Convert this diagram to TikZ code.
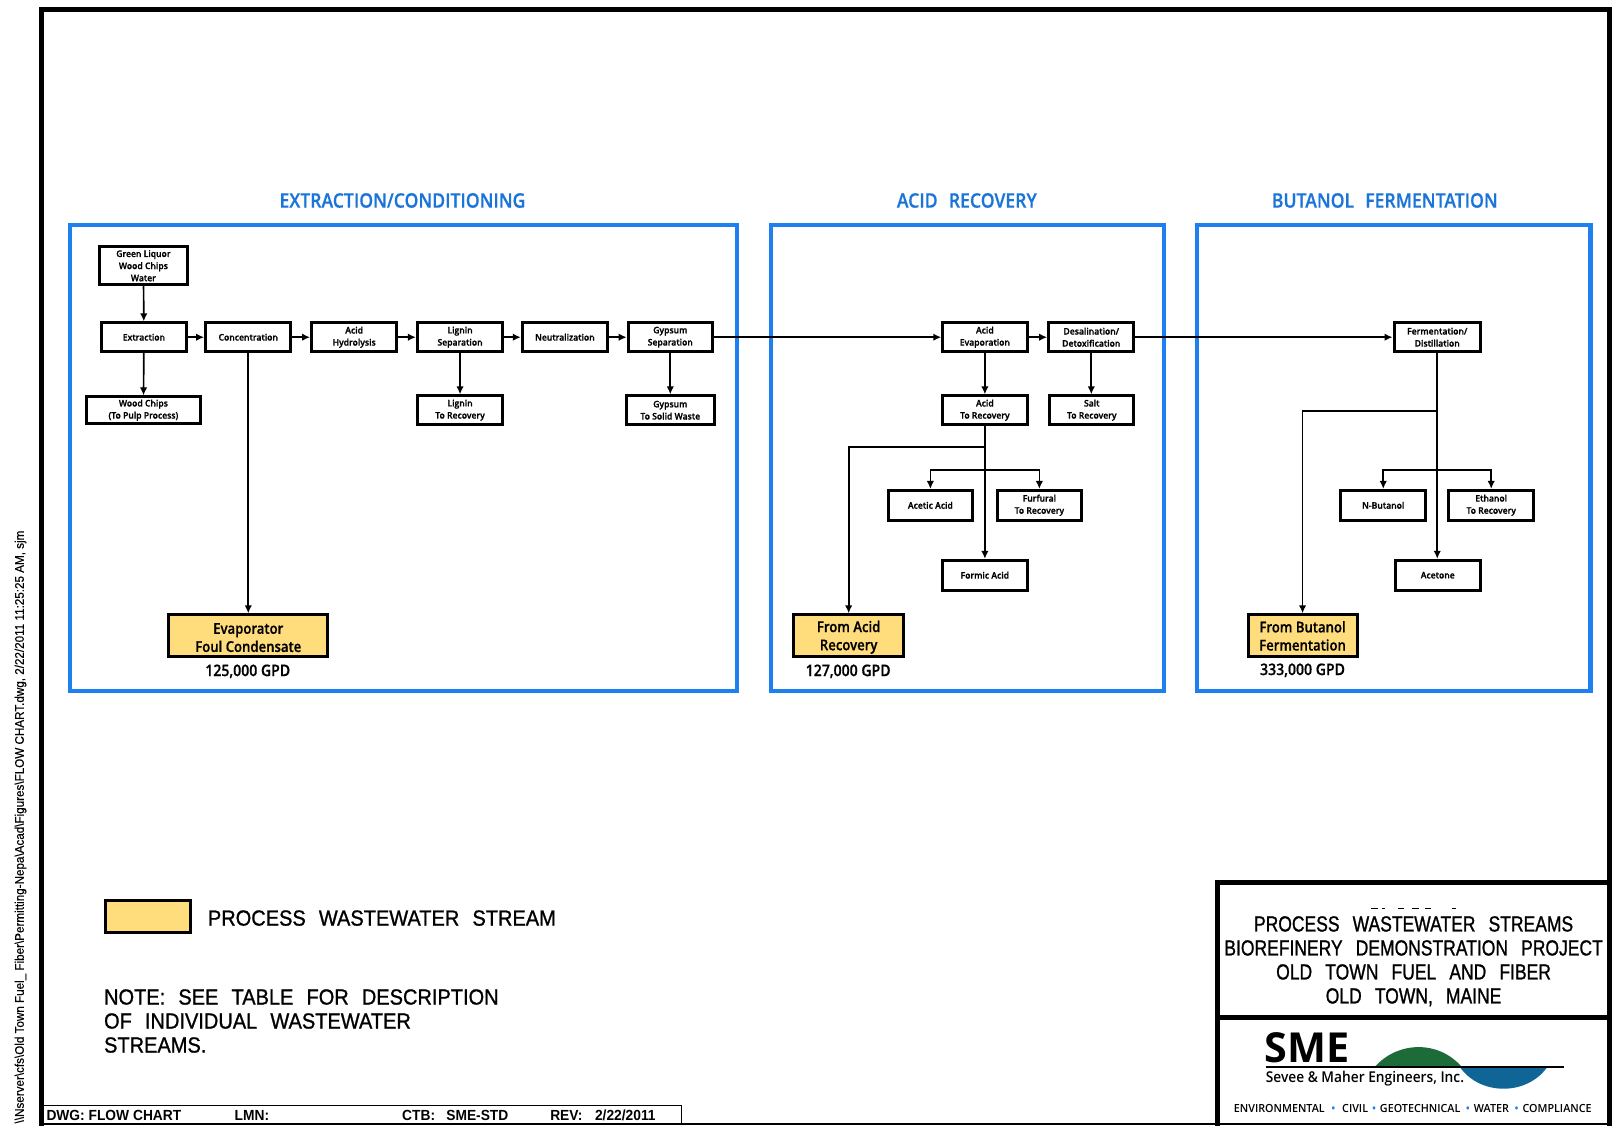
\documentclass[tikz,border=0pt]{standalone}
\usepackage{fontspec}
\setmainfont{Open Sans}
\newfontfamily\boxf[FakeStretch=0.95,FakeBold=1.2]{Open Sans Semibold}
\newfontfamily\headf[FakeStretch=0.88,FakeBold=0.5]{Open Sans Semibold}
\newfontfamily\wastef[FakeStretch=0.88,FakeBold=0.6]{Open Sans Semibold}
\newfontfamily\gpdf[FakeStretch=0.88,FakeBold=0.5]{Open Sans Semibold}
\newfontfamily\cadf[FakeStretch=0.80,FakeBold=1]{Liberation Sans}
\newfontfamily\notef[FakeStretch=0.915,FakeBold=1]{Liberation Sans}
\newfontfamily\stripf[FakeStretch=0.94]{Liberation Sans}
\newfontfamily\sidef[FakeStretch=0.93,FakeBold=0.4]{Liberation Sans}
\newfontfamily\smef{Open Sans}
\newfontfamily\logof[FakeStretch=0.92]{Open Sans Semibold}
\newfontfamily\envf[FakeStretch=0.96]{Open Sans Semibold}
\usetikzlibrary{arrows.meta}
\definecolor{frameblue}{HTML}{1E80F0}
\definecolor{headblue}{HTML}{1B74D8}
\definecolor{wastey}{HTML}{FFDD7C}
\definecolor{logogreen}{HTML}{1C6B38}
\definecolor{logoblue}{HTML}{0F6696}
\tikzset{
  x=0.771pt,y=-0.771pt,
  procbox/.style={draw=black,line width=2.2pt,fill=white,align=center,inner sep=0pt,
    font=\boxf\fontsize{6.8}{9.1}\selectfont},
  wastebox/.style={procbox,fill=wastey,font=\wastef\fontsize{11.2}{13.6}\selectfont},
  flow/.style={line width=1.25pt,-{Latex[length=6pt,width=5.6pt]}},
  group/.style={draw=frameblue,line width=3.2pt,fill=none,inner sep=0pt},
  grouptitle/.style={text=headblue,font=\headf\fontsize{15}{18}\selectfont,inner sep=0pt},
  gpd/.style={font=\gpdf\fontsize{12}{14}\selectfont,inner sep=0pt},
  cadtext/.style={font=\notef\fontsize{16.4}{18}\selectfont,inner sep=0pt,align=left},
  titletext/.style={font=\cadf\fontsize{16.4}{18}\selectfont,inner sep=0pt,align=center},
  striptext/.style={font=\stripf\bfseries\fontsize{11}{12}\selectfont,inner sep=0pt,anchor=west},
  heavy/.style={draw=black,line width=3.8pt},
}
\newcommand{\bx}[7][procbox]{\node[#1,minimum width={(#4-#3-2)*0.771pt},minimum height={(#6-#5-2)*0.771pt}] (#2) at ({(#3+#4)/2},{(#5+#6)/2}) {#7};}
\newcommand{\wsp}{\hspace{0.6em}}
\newcommand{\dropline}{\rule{0pt}{10.6pt}}
\begin{document}
\begin{tikzpicture}
\useasboundingbox (0,0) rectangle (1568,1095);
% outer frame
\draw[heavy] (40.5,1095) -- (40.5,9) -- (1566,9) -- (1566,1095);
\draw[line width=1.8pt] (38,1093.5) -- (1568,1093.5);
% title block
\draw[heavy] (1184,1095) -- (1184,858) -- (1568,858);
\draw[heavy] (1184,990) -- (1568,990);
% bottom strip
\draw[line width=1pt] (41,1075) -- (663,1075) -- (663,1093);
\node[striptext] (dwg) at (45,1085) {DWG: FLOW CHART};
\node[striptext] (lmn) at (228,1085) {LMN:};
\node[striptext] (ctb) at (391,1085) {CTB:\hspace{0.5em} SME-STD};
\node[striptext] (rev) at (535,1085) {REV:\hspace{0.6em} 2/22/2011};
% side text
\node[rotate=90,anchor=west,inner sep=0pt,font=\sidef\fontsize{9.4}{11}\selectfont] (side) at (20,1093)
 {\textbackslash\textbackslash Nserver\textbackslash cfs\textbackslash Old Town Fuel\_ Fiber\textbackslash Permitting-Nepa\textbackslash Acad\textbackslash Figures\textbackslash FLOW CHART.dwg, 2/22/2011 11:25:25 AM, sjm};
% groups
\node[group,minimum width={(717-68)*0.771pt},minimum height={(672-219)*0.771pt}] (g1) at ({(68+717)/2},{(219+672)/2}) {};
\node[group,minimum width={(1132-750)*0.771pt},minimum height={(672-219)*0.771pt}] (g2) at ({(750+1132)/2},{(219+672)/2}) {};
\node[group,minimum width={(1547-1164)*0.771pt},minimum height={(672-219)*0.771pt}] (g3) at ({(1164+1547)/2},{(219+672)/2}) {};
\node[grouptitle] (t1) at (391.5,195) {EXTRACTION/CONDITIONING};
\node[grouptitle] (t2) at (940.5,195) {ACID\hspace{5pt} RECOVERY};
\node[grouptitle] (t3) at (1347,195) {BUTANOL\hspace{5pt} FERMENTATION};
% extraction boxes
\bx{green}{96}{183}{239}{278}{Green Liquor\\Wood Chips\\Water}
\bx{extr}{98}{182}{313}{343}{Extraction}
\bx{conc}{199}{284}{313}{343}{Concentration}
\bx{hydro}{302}{387}{313}{343}{Acid\\Hydrolysis}
\bx{lignin}{405}{490}{313}{343}{Lignin\\Separation}
\bx{neut}{507}{592}{313}{343}{Neutralization}
\bx{gyps}{610}{694}{313}{343}{Gypsum\\Separation}
\bx{chips}{83}{196}{385}{413}{Wood Chips\\(To Pulp Process)}
\bx{ligrec}{405}{490}{384}{414}{Lignin\\To Recovery}
\bx{gypsw}{608}{696}{384}{414}{Gypsum\\To Solid Waste}
\bx[wastebox]{evap}{163}{320}{597}{640}{\dropline Evaporator\\Foul Condensate}
\node[gpd] (evapg) at (241,653) {125,000 GPD};
% acid boxes
\bx{acev}{916}{1000}{313}{343}{Acid\\Evaporation}
\bx{desal}{1019}{1104}{313}{343}{Desalination/\\Detoxification}
\bx{acrec}{916}{1000}{384}{414}{Acid\\To Recovery}
\bx{salt}{1020}{1104}{384}{414}{Salt\\To Recovery}
\bx{acetic}{863}{947}{476}{507}{Acetic Acid}
\bx{furf}{969}{1053}{476}{507}{Furfural\\To Recovery}
\bx{formic}{916}{1000}{544}{575}{Formic Acid}
\bx[wastebox]{fromacid}{771}{880}{597}{640}{\dropline From Acid\\Recovery}
\node[gpd] (acidg) at (825,653) {127,000 GPD};
% butanol boxes
\bx{ferm}{1355}{1441}{313}{343}{Fermentation/\\Distillation}
\bx{nbut}{1303}{1388}{476}{507}{N-Butanol}
\bx{etoh}{1408}{1493}{476}{507}{Ethanol\\To Recovery}
\bx{acetone}{1356}{1441}{544}{575}{Acetone}
\bx[wastebox]{frombut}{1213}{1321}{597}{640}{From Butanol\\Fermentation}
\node[gpd] (butg) at (1267,652) {333,000 GPD};
% connectors
\draw[flow] (green) -- (extr);
\draw[flow] (extr) -- (conc);
\draw[flow] (conc) -- (hydro);
\draw[flow] (hydro) -- (lignin);
\draw[flow] (lignin) -- (neut);
\draw[flow] (neut) -- (gyps);
\draw[flow] (gyps) -- (acev);
\draw[flow] (acev) -- (desal);
\draw[flow] (desal) -- (ferm);
\draw[flow] (extr) -- (chips);
\draw[flow] (conc) -- (evap);
\draw[flow] (lignin) -- (ligrec);
\draw[flow] (gyps.south) -- (gypsw.north);
\draw[flow] (acev) -- (acrec);
\draw[flow] (desal) -- (desal|-salt.north);
\draw[flow] (acrec) -- (formic);
\coordinate (j1) at (acrec.south|-0,435);
\coordinate (j2) at (acrec.south|-0,457);
\draw[flow] (j1) -| (fromacid.north);
\draw[flow] (j2) -| (acetic.north);
\draw[flow] (j2) -| (furf.north);
\draw[flow] (ferm.south) -- (ferm.south|-acetone.north);
\coordinate (j3) at (ferm.south|-0,400);
\coordinate (j4) at (ferm.south|-0,457);
\draw[flow] (j3) -| (frombut.north);
\draw[flow] (j4) -| (nbut.north);
\draw[flow] (j4) -| (etoh.north);
% legend and note
\node[procbox,fill=wastey,minimum width={82*0.771pt},minimum height={31*0.771pt}] (legbox) at (144,891.5) {};
\node[cadtext,anchor=west] (legtext) at (202,893) {PROCESS\wsp WASTEWATER\wsp STREAM};
\node[cadtext,anchor=north west] (note) at (101,962)
 {NOTE:\wsp SEE\wsp TABLE\wsp FOR\wsp DESCRIPTION\\OF\wsp INDIVIDUAL\wsp WASTEWATER\\STREAMS.};
% title block text
\node[titletext] (ttl) at (1375,935)
 {PROCESS\wsp WASTEWATER\wsp STREAMS\\BIOREFINERY\wsp DEMONSTRATION\wsp PROJECT\\OLD\wsp TOWN\wsp FUEL\wsp AND\wsp FIBER\\OLD\wsp TOWN,\wsp MAINE};
\draw[line width=1pt] (1334,884) -- (1340,884) (1344,884) -- (1347,884) (1360,884) -- (1366,884) (1373,884) -- (1380,884) (1386,884) -- (1392,884) (1412,884) -- (1416,884);
% logo
\fill[logogreen] (1337,1038) .. controls (1360,1012) and (1400,1012) .. (1422,1038) -- cycle;
\fill[logoblue] (1420,1038) .. controls (1440,1066) and (1485,1066) .. (1505,1038) -- cycle;
\draw[line width=1.6pt] (1231,1038) -- (1521,1038);
\node[anchor=west,inner sep=0pt,font=\smef\bfseries\fontsize{31}{31}\selectfont] (sme) at (1230,1019.5) {SME};
\node[anchor=west,inner sep=0pt,font=\logof\fontsize{11.2}{13}\selectfont] (sevee) at (1231,1049) {Sevee \& Maher Engineers, Inc.};
\node[anchor=west,inner sep=0pt,font=\envf\fontsize{8.4}{10}\selectfont] (env) at (1200,1078)
 {ENVIRONMENTAL\hspace{0.6em}{\color{frameblue}•}\hspace{0.6em}CIVIL\hspace{0.35em}{\color{frameblue}•}\hspace{0.35em}GEOTECHNICAL\hspace{0.5em}{\color{frameblue}•}\hspace{0.35em}WATER\hspace{0.5em}{\color{frameblue}•}\hspace{0.35em}COMPLIANCE};
\end{tikzpicture}
\end{document}
